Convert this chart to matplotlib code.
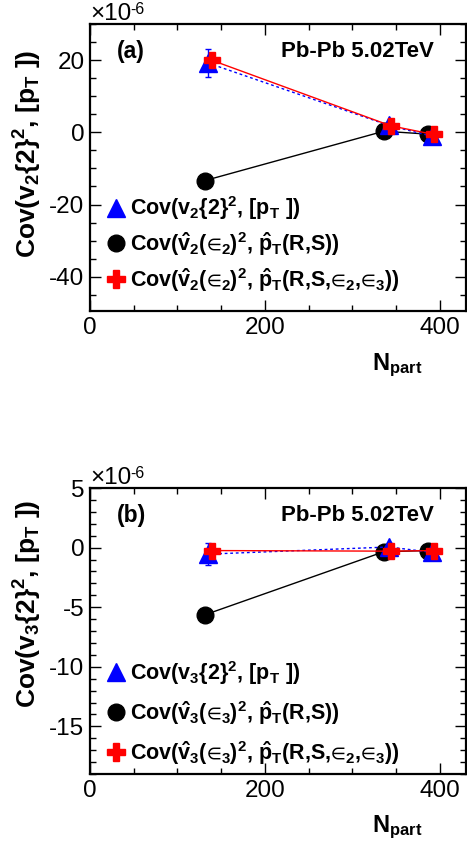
import matplotlib
matplotlib.use("Agg")
import matplotlib.pyplot as plt
from matplotlib.lines import Line2D
from matplotlib.ticker import MultipleLocator

plt.rcParams['font.family'] = ['Liberation Sans', 'DejaVu Sans']
plt.rcParams['mathtext.fontset'] = 'custom'
plt.rcParams['mathtext.rm'] = 'Liberation Sans:bold'
plt.rcParams['mathtext.it'] = 'Liberation Sans:bold'
plt.rcParams['mathtext.bf'] = 'Liberation Sans:bold'
plt.rcParams['mathtext.sf'] = 'Liberation Sans:bold'
plt.rcParams['mathtext.fallback'] = 'stixsans'
plt.rcParams['axes.unicode_minus'] = False

# ---------------- data (units of 1e-6) ----------------
# panel (a): v2
a_tri_x = [135, 342, 391]
a_tri_y = [19.2, 1.9, -1.1]
a_tri_err = [3.9, 0.6, 0.6]
a_cir_x = [131, 336, 386]
a_cir_y = [-13.4, 0.3, -0.5]
a_crs_x = [140, 344, 393]
a_crs_y = [19.9, 1.8, -0.6]

# panel (b): v3
b_tri_x = [135, 342, 391]
b_tri_y = [-0.55, 0.05, -0.4]
b_tri_err = [0.95, 0.3, 0.3]
b_cir_x = [131, 336, 386]
b_cir_y = [-5.65, -0.35, -0.25]
b_crs_x = [140, 344, 393]
b_crs_y = [-0.25, -0.3, -0.25]

E = u'\u2208'
labels_a = [u'Cov(v$_{2}${2}$^{2}$, [p$_{T}$ ])',
            u'Cov($\\hat{v}_{2}$($' + E + u'_{2}$)$^{2}$, $\\hat{p}_{T}$(R,S))',
            u'Cov($\\hat{v}_{2}$($' + E + u'_{2}$)$^{2}$, $\\hat{p}_{T}$(R,S,$' + E + u'_{2}$,$' + E + u'_{3}$))']
labels_b = [u'Cov(v$_{3}${2}$^{2}$, [p$_{T}$ ])',
            u'Cov($\\hat{v}_{3}$($' + E + u'_{3}$)$^{2}$, $\\hat{p}_{T}$(R,S))',
            u'Cov($\\hat{v}_{3}$($' + E + u'_{3}$)$^{2}$, $\\hat{p}_{T}$(R,S,$' + E + u'_{2}$,$' + E + u'_{3}$))']
ylabel_a = u'Cov(v$_{2}${2}$^{2}$, [p$_{T}$ ])'
ylabel_b = u'Cov(v$_{3}${2}$^{2}$, [p$_{T}$ ])'
xlabel = u'N$_{part}$'
system_text = 'Pb-Pb 5.02TeV'

W, H = 467, 850
fig = plt.figure(figsize=(W / 100, H / 100), dpi=100)
ax_a = fig.add_axes([90 / W, 1 - 311 / H, 376 / W, 287 / H])
ax_b = fig.add_axes([90 / W, 1 - 774 / H, 376 / W, 286 / H])


def draw(ax, tx, ty, terr, cx, cy, rx, ry, labels, ylim, major, minor,
         tag, ylab, ylab_y, leg_anchor, leg_spacing):
    ax.plot(cx, cy, color='black', lw=1.0, marker='o', ms=12,
            mfc='black', mec='black', zorder=3)
    ax.errorbar(tx, ty, yerr=terr, color='blue', lw=1.0, ls=(0, (2, 2)),
                marker='^', ms=13, mfc='blue', mec='blue', capsize=2.5,
                elinewidth=1.0, zorder=4)
    ax.plot(rx, ry, color='red', lw=1.0, marker='P', ms=12, mfc='red',
            mec='red', zorder=5)
    ax.set_xlim(0, 430)
    ax.set_ylim(*ylim)
    ax.xaxis.set_major_locator(MultipleLocator(200))
    ax.xaxis.set_minor_locator(MultipleLocator(50))
    ax.yaxis.set_major_locator(MultipleLocator(major))
    ax.yaxis.set_minor_locator(MultipleLocator(minor))
    ax.tick_params(which='both', direction='in', top=True, right=True,
                   labelsize=17.5, width=1.0, pad=4)
    ax.tick_params(which='major', length=8)
    ax.tick_params(which='minor', length=4)
    for s in ax.spines.values():
        s.set_linewidth(1.6)
    ax.text(0.072, 0.905, tag, transform=ax.transAxes, fontsize=16.5,
            fontweight='bold', va='center', ha='left')
    ax.text(0.915, 0.905, system_text, transform=ax.transAxes, fontsize=16,
            fontweight='bold', va='center', ha='right')
    ax.set_ylabel(ylab, fontsize=19, fontweight='bold', va='center')
    ax.yaxis.set_label_coords(-0.165, ylab_y)
    ax.set_xlabel(xlabel, fontsize=17, fontweight='bold', ha='right')
    ax.xaxis.set_label_coords(0.885, -0.14)
    ax.text(0.0, 0.995, u'\u00d710', transform=ax.transAxes, fontsize=17.5,
            va='bottom', ha='left')
    ax.text(0.108, 1.025, u'-6', transform=ax.transAxes, fontsize=11.5,
            va='bottom', ha='left')
    handles = [
        Line2D([], [], ls='none', marker='^', ms=13, mfc='blue', mec='blue'),
        Line2D([], [], ls='none', marker='o', ms=12, mfc='black', mec='black'),
        Line2D([], [], ls='none', marker='P', ms=12.5, mfc='red', mec='red'),
    ]
    ax.legend(handles, labels, loc='lower left', bbox_to_anchor=leg_anchor,
              frameon=False, prop={'size': 15.5, 'weight': 'bold'},
              handlelength=1.0, handletextpad=0.15, labelspacing=leg_spacing,
              borderpad=0, borderaxespad=0)


draw(ax_a, a_tri_x, a_tri_y, a_tri_err, a_cir_x, a_cir_y, a_crs_x, a_crs_y,
     labels_a, (-49.5, 30), 20, 5, '(a)', ylabel_a, 0.547, (0.04, 0.06), 0.37)
draw(ax_b, b_tri_x, b_tri_y, b_tri_err, b_cir_x, b_cir_y, b_crs_x, b_crs_y,
     labels_b, (-19, 5), 5, 1, '(b)', ylabel_b, 0.594, (0.04, 0.025), 0.56)

fig.savefig('out.png', dpi=100)
